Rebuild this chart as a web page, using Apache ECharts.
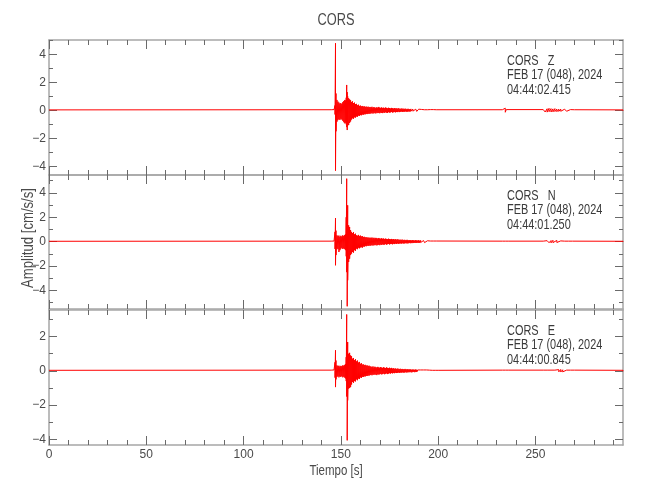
<!DOCTYPE html>
<html>
<head>
<meta charset="utf-8">
<script src="https://cdn.jsdelivr.net/npm/echarts@6/dist/echarts.min.js"></script>
<style>html,body{margin:0;padding:0;background:#fff}#c{width:650px;height:500px}</style>
</head>
<body>
<div id="c"></div>
<script>
// ---- data ----
const chartTitle = 'CORS';
const xLabel = 'Tiempo [s]';
const yLabel = 'Amplitud [cm/s/s]';
const components = ['Z', 'N', 'E'];
const stationLines = ['CORS   Z', 'CORS   N', 'CORS   E'];
const dateLines = ['FEB 17 (048), 2024', 'FEB 17 (048), 2024', 'FEB 17 (048), 2024'];
const startTimes = ['04:44:02.415', '04:44:01.250', '04:44:00.845'];
const xRange = [0, 295];
const yRanges = [[-4.62, 5.02], [-5.52, 5.46], [-4.33, 3.55]];
const xMajorTicks = [0, 50, 100, 150, 200, 250];
const xMinorTicks = [10, 20, 30, 40, 60, 70, 80, 90, 110, 120, 130, 140, 160, 170, 180, 190, 210, 220, 230, 240, 260, 270, 280, 290];
const yMajorTicks = [[-4, -2, 0, 2, 4], [-4, -2, 0, 2, 4], [-4, -2, 0, 2]];
const yMinorTicks = [[-3, -1, 1, 3, 5], [-5, -3, -1, 1, 3, 5], [-3, -1, 1, 3]];

// time samples (s) at which the swings of each trace were read
const timeGrid = [0, 145, 146, 146.5, 147, 147.25, 147.5,
  148, 148.5, 149, 149.5, 150, 150.5, 151, 151.5, 152, 152.5,
  152.75, 153, 153.25, 153.5,
  154, 154.5, 155, 155.5, 156, 156.5, 157, 157.5, 158, 158.5, 159, 159.5, 160, 160.5, 161, 161.5, 162, 162.5, 163, 163.5, 164, 164.5, 165,
  165.5, 166, 166.5, 167, 167.5, 168, 168.5, 169, 169.5, 170,
  170.5, 171, 171.5, 172, 172.5, 173, 173.5, 174, 174.5, 175,
  175.5, 176, 176.5, 177, 177.5, 178, 178.5, 179, 179.5, 180,
  180.5, 181, 181.5, 182, 182.5, 183, 183.5, 184, 184.5, 185,
  185.5, 186, 186.5, 187, 187.5, 188, 188.5, 189, 189.5, 190,
  190.5, 191, 191.5, 192, 192.5, 193, 193.5, 194, 194.5, 195,
  195.5, 196, 196.5, 197, 197.5, 198, 198.5, 199, 199.5, 200,
  233, 234, 234.5, 235, 236,
  254, 255, 256, 257, 258, 259, 260, 261, 262, 263, 264, 265, 266, 267, 268, 269, 270,
  295];

// upper / lower swings of each trace at those times (cm/s/s)
const zHigh = [0.03, 0.04, 0.04, 0.05, 0.35, 4.79, 1.20,
  0.74, 0.62, 0.55, 0.48, 0.52, 0.45, 0.58, 0.66, 0.74, 0.70,
  0.90, 1.81, 1.30, 1.00,
  0.86, 0.78, 0.72, 0.60, 0.64, 0.52, 0.55, 0.44, 0.46, 0.36, 0.40, 0.31, 0.34, 0.28, 0.31, 0.26, 0.29, 0.24, 0.27, 0.23, 0.26, 0.22, 0.24,
  0.21, 0.25, 0.19, 0.23, 0.20, 0.17, 0.22, 0.18, 0.24, 0.19,
  0.17, 0.21, 0.16, 0.19, 0.15, 0.20, 0.17, 0.14, 0.18, 0.16,
  0.13, 0.17, 0.15, 0.12, 0.16, 0.13, 0.14, 0.11, 0.15, 0.12,
  0.10, 0.13, 0.11, 0.12, 0.09, 0.12, 0.10, 0.08, 0.11, 0.09,
  0.08, 0.10, 0.07, 0.09, 0.08, 0.06, 0.08, 0.07, 0.06, 0.08,
  0.05, 0.07, 0.06, 0.05, 0.06, 0.04, 0.06, 0.05, 0.04, 0.05,
  0.04, 0.05, 0.04, 0.04, 0.05, 0.04, 0.03, 0.04, 0.04, 0.03,
  0.04, 0.06, 0.15, 0.05, 0.04,
  0.05, 0.13, 0.11, 0.14, 0.12, 0.10, 0.12, 0.09, 0.08, 0.09, 0.07, 0.08, 0.06, 0.07, 0.05, 0.05, 0.04,
  0.03];
const zLow = [-0.03, -0.04, -0.04, -0.05, -0.30, -4.31, -1.50,
  -0.81, -0.70, -0.62, -0.69, -0.60, -0.66, -0.75, -0.85, -0.93, -0.88,
  -1.00, -1.20, -1.41, -1.10,
  -1.05, -0.90, -0.80, -0.66, -0.57, -0.60, -0.50, -0.52, -0.44, -0.46, -0.38, -0.40, -0.34, -0.36, -0.30, -0.32, -0.28, -0.29, -0.26, -0.27, -0.24, -0.25, -0.23,
  -0.23, -0.19, -0.24, -0.18, -0.21, -0.22, -0.17, -0.20, -0.18, -0.21,
  -0.16, -0.19, -0.20, -0.15, -0.18, -0.14, -0.17, -0.19, -0.13, -0.16,
  -0.15, -0.12, -0.16, -0.14, -0.11, -0.15, -0.12, -0.13, -0.10, -0.13,
  -0.11, -0.09, -0.12, -0.10, -0.11, -0.08, -0.10, -0.11, -0.08, -0.09,
  -0.09, -0.07, -0.08, -0.06, -0.09, -0.07, -0.06, -0.08, -0.07, -0.05,
  -0.06, -0.05, -0.07, -0.04, -0.05, -0.06, -0.04, -0.05, -0.04, -0.05,
  -0.04, -0.03, -0.05, -0.04, -0.03, -0.04, -0.04, -0.03, -0.04, -0.03,
  -0.04, -0.05, -0.14, -0.05, -0.04,
  -0.05, -0.12, -0.13, -0.10, -0.12, -0.11, -0.09, -0.10, -0.08, -0.07, -0.08, -0.06, -0.07, -0.05, -0.05, -0.04, -0.04,
  -0.03];

const nHigh = [0.03, 0.04, 0.04, 0.05, 0.80, 1.93, 0.90,
  0.52, 0.45, 0.50, 0.40, 0.48, 0.42, 0.52, 0.46, 0.55, 0.60,
  2.00, 5.16, 2.50, 2.98,
  1.34, 1.20, 0.95, 0.80, 0.70, 0.79, 0.60, 0.65, 0.52, 0.48, 0.55, 0.45, 0.50, 0.42, 0.46, 0.38, 0.40, 0.35, 0.36, 0.33, 0.34, 0.31, 0.33,
  0.30, 0.34, 0.28, 0.32, 0.27, 0.31, 0.29, 0.25, 0.30, 0.26,
  0.24, 0.28, 0.23, 0.26, 0.21, 0.25, 0.22, 0.20, 0.24, 0.21,
  0.19, 0.22, 0.18, 0.21, 0.17, 0.20, 0.16, 0.19, 0.17, 0.15,
  0.16, 0.14, 0.17, 0.13, 0.15, 0.14, 0.12, 0.15, 0.13, 0.11,
  0.13, 0.12, 0.10, 0.13, 0.11, 0.09, 0.12, 0.10, 0.09, 0.11,
  0.08, 0.10, 0.09, 0.07, 0.09, 0.08, 0.06, 0.08, 0.07, 0.06,
  0.07, 0.05, 0.06, 0.06, 0.05, 0.06, 0.04, 0.05, 0.05, 0.04,
  0.04, 0.04, 0.04, 0.04, 0.04,
  0.04, 0.05, 0.08, 0.10, 0.09, 0.11, 0.08, 0.10, 0.07, 0.06, 0.05, 0.04, 0.04, 0.04, 0.04, 0.04, 0.04,
  0.03];
const nLow = [-0.03, -0.04, -0.04, -0.05, -0.60, -1.94, -1.10,
  -0.57, -0.62, -0.85, -0.70, -0.58, -0.50, -0.60, -0.55, -0.62, -0.70,
  -1.20, -2.50, -5.30, -3.17,
  -1.67, -1.40, -1.10, -0.98, -0.85, -0.90, -0.70, -0.75, -0.57, -0.62, -0.50, -0.55, -0.48, -0.45, -0.50, -0.40, -0.42, -0.36, -0.38, -0.33, -0.35, -0.32, -0.33,
  -0.32, -0.28, -0.33, -0.27, -0.30, -0.26, -0.31, -0.28, -0.25, -0.29,
  -0.23, -0.27, -0.22, -0.25, -0.24, -0.20, -0.25, -0.21, -0.19, -0.23,
  -0.20, -0.18, -0.22, -0.17, -0.20, -0.16, -0.19, -0.15, -0.18, -0.16,
  -0.14, -0.17, -0.13, -0.15, -0.16, -0.12, -0.14, -0.13, -0.15, -0.11,
  -0.12, -0.13, -0.10, -0.12, -0.11, -0.09, -0.11, -0.10, -0.08, -0.10,
  -0.09, -0.07, -0.09, -0.08, -0.06, -0.08, -0.07, -0.05, -0.07, -0.06,
  -0.05, -0.06, -0.05, -0.04, -0.06, -0.05, -0.04, -0.05, -0.04, -0.04,
  -0.04, -0.04, -0.04, -0.04, -0.04,
  -0.04, -0.05, -0.07, -0.09, -0.10, -0.08, -0.10, -0.07, -0.08, -0.05, -0.05, -0.04, -0.04, -0.04, -0.04, -0.04, -0.04,
  -0.03];

const eHigh = [0.03, 0.04, 0.04, 0.05, 0.50, 1.20, 0.60,
  0.32, 0.28, 0.30, 0.25, 0.29, 0.27, 0.32, 0.30, 0.35, 0.40,
  0.80, 3.29, 1.68, 1.68,
  1.00, 1.05, 0.90, 0.85, 0.71, 0.75, 0.62, 0.68, 0.55, 0.60, 0.48, 0.52, 0.40, 0.45, 0.36, 0.38, 0.33, 0.35, 0.30, 0.32, 0.28, 0.30, 0.26,
  0.25, 0.22, 0.26, 0.20, 0.24, 0.21, 0.19, 0.23, 0.20, 0.18,
  0.22, 0.19, 0.17, 0.21, 0.18, 0.16, 0.20, 0.17, 0.15, 0.18,
  0.14, 0.17, 0.13, 0.15, 0.12, 0.14, 0.11, 0.13, 0.12, 0.10,
  0.12, 0.09, 0.11, 0.10, 0.08, 0.11, 0.09, 0.08, 0.10, 0.07,
  0.09, 0.08, 0.06, 0.08, 0.07, 0.06, 0.08, 0.06, 0.05, 0.07,
  0.06, 0.05, 0.06, 0.04, 0.05, 0.06, 0.04, 0.05, 0.04, 0.05,
  0.04, 0.04, 0.05, 0.03, 0.04, 0.04, 0.03, 0.04, 0.04, 0.03,
  0.04, 0.04, 0.04, 0.04, 0.04,
  0.04, 0.04, 0.04, 0.04, 0.04, 0.04, 0.04, 0.05, 0.07, 0.08, 0.06, 0.05, 0.04, 0.04, 0.04, 0.04, 0.04,
  0.03];
const eLow = [-0.03, -0.04, -0.04, -0.05, -0.40, -0.95, -0.50,
  -0.36, -0.30, -0.38, -0.32, -0.36, -0.30, -0.38, -0.34, -0.40, -0.45,
  -0.60, -1.50, -4.06, -1.73,
  -1.04, -1.00, -0.95, -0.80, -0.65, -0.70, -0.60, -0.62, -0.50, -0.55, -0.45, -0.48, -0.38, -0.42, -0.35, -0.36, -0.32, -0.33, -0.30, -0.30, -0.27, -0.28, -0.25,
  -0.23, -0.26, -0.21, -0.24, -0.20, -0.23, -0.25, -0.19, -0.22, -0.20,
  -0.18, -0.21, -0.19, -0.16, -0.20, -0.17, -0.15, -0.19, -0.16, -0.14,
  -0.16, -0.13, -0.15, -0.12, -0.14, -0.11, -0.13, -0.12, -0.10, -0.12,
  -0.10, -0.11, -0.09, -0.10, -0.11, -0.08, -0.09, -0.10, -0.07, -0.09,
  -0.07, -0.08, -0.09, -0.06, -0.07, -0.08, -0.06, -0.07, -0.05, -0.06,
  -0.05, -0.06, -0.04, -0.05, -0.06, -0.04, -0.05, -0.04, -0.05, -0.04,
  -0.04, -0.03, -0.04, -0.04, -0.03, -0.04, -0.04, -0.03, -0.03, -0.03,
  -0.04, -0.04, -0.04, -0.04, -0.04,
  -0.04, -0.04, -0.04, -0.04, -0.04, -0.04, -0.04, -0.05, -0.06, -0.07, -0.06, -0.05, -0.04, -0.04, -0.04, -0.04, -0.04,
  -0.03];

const highs = [zHigh, nHigh, eHigh];
const lows = [zLow, nLow, eLow];

// ---- layout / style ----
const FONT = "'Liberation Sans', Arial, sans-serif";
const TEXT = '#4a4a4a';
const AXIS = '#a6a6a6';
const TICK = '#6a6a6a';
const NARROW = 0.8;
const grids = [
  { left: 49, width: 574, top: 40, height: 135 },
  { left: 49, width: 574, top: 175, height: 134 },
  { left: 49, width: 574, top: 310, height: 135 }
];

const minus = v => String(v).replace('-', '\u2212');
const xAxes = [], yAxes = [], series = [], graphics = [];

grids.forEach((g, gi) => {
  const last = gi === grids.length - 1;
  const xBase = { type: 'value', gridIndex: gi, min: xRange[0], max: xRange[1], splitLine: { show: false } };
  xAxes.push(Object.assign({}, xBase, {
    position: 'bottom',
    axisLine: { show: true, onZero: false, lineStyle: { color: AXIS, width: 1.5 } },
    axisTick: { show: true, inside: true, length: 9, customValues: xMajorTicks, lineStyle: { color: TICK, width: 1 } },
    axisLabel: { show: last, customValues: xMajorTicks, color: TEXT, fontFamily: FONT, fontSize: 12, margin: 4 }
  }));
  xAxes.push(Object.assign({}, xBase, {
    position: 'top',
    axisLine: { show: true, onZero: false, lineStyle: { color: AXIS, width: 1.5 } },
    axisTick: { show: true, inside: true, length: 9, customValues: xMajorTicks, lineStyle: { color: TICK, width: 1 } },
    axisLabel: { show: false }
  }));
  xAxes.push(Object.assign({}, xBase, {
    position: 'bottom',
    axisLine: { show: false, onZero: false },
    axisTick: { show: true, inside: true, length: 5, customValues: xMinorTicks, lineStyle: { color: TICK, width: 1 } },
    axisLabel: { show: false }
  }));
  xAxes.push(Object.assign({}, xBase, {
    position: 'top',
    axisLine: { show: false, onZero: false },
    axisTick: { show: true, inside: true, length: 5, customValues: xMinorTicks, lineStyle: { color: TICK, width: 1 } },
    axisLabel: { show: false }
  }));

  const yBase = { type: 'value', gridIndex: gi, min: yRanges[gi][0], max: yRanges[gi][1], splitLine: { show: false } };
  yAxes.push(Object.assign({}, yBase, {
    position: 'left',
    axisLine: { show: true, onZero: false, lineStyle: { color: AXIS, width: 1.5 } },
    axisTick: { show: true, inside: true, length: 8, customValues: yMajorTicks[gi], lineStyle: { color: TICK, width: 1 } },
    axisLabel: { show: true, customValues: yMajorTicks[gi], color: TEXT, fontFamily: FONT, fontSize: 12, margin: 3, formatter: minus }
  }));
  yAxes.push(Object.assign({}, yBase, {
    position: 'right',
    axisLine: { show: true, onZero: false, lineStyle: { color: AXIS, width: 1.5 } },
    axisTick: { show: true, inside: true, length: 8, customValues: yMajorTicks[gi], lineStyle: { color: TICK, width: 1 } },
    axisLabel: { show: false }
  }));
  yAxes.push(Object.assign({}, yBase, {
    position: 'left',
    axisLine: { show: false, onZero: false },
    axisTick: { show: true, inside: true, length: 4, customValues: yMinorTicks[gi], lineStyle: { color: TICK, width: 1 } },
    axisLabel: { show: false }
  }));
  yAxes.push(Object.assign({}, yBase, {
    position: 'right',
    axisLine: { show: false, onZero: false },
    axisTick: { show: true, inside: true, length: 4, customValues: yMinorTicks[gi], lineStyle: { color: TICK, width: 1 } },
    axisLabel: { show: false }
  }));

  // trace: swing between the read upper and lower values at each time sample
  const pts = [];
  timeGrid.forEach((t, i) => {
    pts.push([t, highs[gi][i]]);
    pts.push([t, lows[gi][i]]);
  });
  series.push({
    type: 'line', name: components[gi], xAxisIndex: gi * 4, yAxisIndex: gi * 4,
    data: pts, showSymbol: false, symbol: 'none', sampling: null, animation: false,
    lineStyle: { color: '#ff0000', width: 1 }, z: 1
  });

  const lines = [stationLines[gi], dateLines[gi], startTimes[gi]];
  lines.forEach((s, li) => {
    graphics.push({
      type: 'text', x: 507, y: g.top + 21 + li * 14.5, scaleX: 0.78,
      style: { text: s, fill: '#3a3a3a', font: '14px ' + FONT, align: 'left', verticalAlign: 'middle' }
    });
  });
});

graphics.push({ type: 'text', x: 336, y: 21, scaleX: NARROW, style: { text: chartTitle, fill: TEXT, font: '16px ' + FONT, align: 'center', verticalAlign: 'middle' } });
graphics.push({ type: 'text', x: 336, y: 471, scaleX: 0.82, style: { text: xLabel, fill: TEXT, font: '14px ' + FONT, align: 'center', verticalAlign: 'middle' } });
graphics.push({ type: 'text', x: 29, y: 238, rotation: Math.PI / 2, scaleX: 0.82, style: { text: yLabel, fill: TEXT, font: '16px ' + FONT, align: 'center', verticalAlign: 'middle' } });

const chart = echarts.init(document.getElementById('c'), null, { renderer: 'canvas' });
chart.setOption({
  animation: false,
  backgroundColor: '#ffffff',
  grid: grids,
  xAxis: xAxes,
  yAxis: yAxes,
  series: series,
  graphic: graphics
});
</script>
</body>
</html>
